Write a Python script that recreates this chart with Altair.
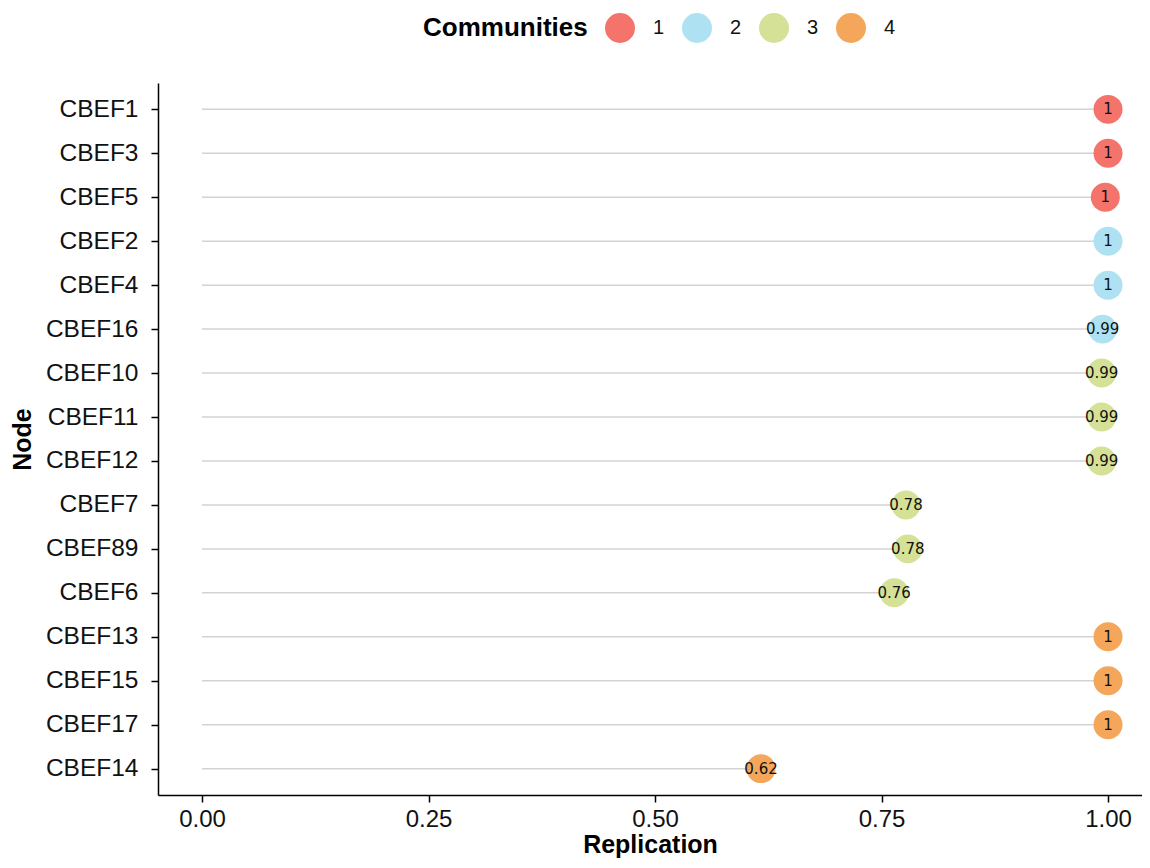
import altair as alt
import pandas as pd

nodes = ["CBEF1", "CBEF3", "CBEF5", "CBEF2", "CBEF4", "CBEF16", "CBEF10", "CBEF11",
         "CBEF12", "CBEF7", "CBEF89", "CBEF6", "CBEF13", "CBEF15", "CBEF17", "CBEF14"]
communities = ["1", "1", "1", "2", "2", "2", "3", "3", "3", "3", "3", "3", "4", "4", "4", "4"]
replication = [1.0, 1.0, 0.997, 1.0, 1.0, 0.994, 0.993, 0.993, 0.993,
               0.777, 0.779, 0.764, 1.0, 1.0, 1.0, 0.617]
x_ticks = [0.0, 0.25, 0.5, 0.75, 1.0]
comm_domain = ["1", "2", "3", "4"]
comm_colors = ["#F4736B", "#AEE2F2", "#D5E196", "#F4A75A"]

df = pd.DataFrame({"Node": nodes, "Community": communities, "Replication": replication})
df["zero"] = 0.0

FONT = "Liberation Sans"

x_scale = alt.Scale(domain=[-0.0486, 1.0375], nice=False, zero=False)
y_scale = alt.Scale(type="point", padding=0.6, domain=nodes)

base = alt.Chart(df)

segments = base.mark_rule(color="#D3D3D3", strokeWidth=1.5).encode(
    x=alt.X("zero:Q", scale=x_scale,
            axis=alt.Axis(values=x_ticks, format=".2f", title="Replication",
                          labelFontSize=24, titleFontSize=25, labelColor="#111111",
                          titleColor="black", titleFontWeight="bold", grid=False,
                          domainColor="black", domainWidth=1.5, tickColor="black",
                          tickSize=7, tickWidth=1.5, labelPadding=5, titlePadding=1,
                          labelFont=FONT, titleFont=FONT)),
    x2="Replication:Q",
    y=alt.Y("Node:N", scale=y_scale, sort=nodes,
            axis=alt.Axis(title="Node", labelFontSize=24.5, titleFontSize=25,
                          labelColor="#111111", titleColor="black",
                          titleFontWeight="bold", grid=False, domainColor="black",
                          domainWidth=1.5, tickColor="black", tickSize=7,
                          tickWidth=1.5, labelPadding=13, titlePadding=10,
                          labelFont=FONT, titleFont=FONT)),
)

points = base.mark_circle(size=840, opacity=1).encode(
    x=alt.X("Replication:Q", scale=x_scale),
    y=alt.Y("Node:N", scale=y_scale, sort=nodes),
    color=alt.Color("Community:N",
                    scale=alt.Scale(domain=comm_domain, range=comm_colors),
                    legend=alt.Legend(title="Communities", orient="none",
                                      direction="horizontal", legendX=265,
                                      legendY=-70, titleOrient="left",
                                      titleFontSize=26, titleFont=FONT,
                                      titleColor="black", titleFontWeight="bold",
                                      titlePadding=17, labelFontSize=20,
                                      labelFont=FONT, labelColor="#111111",
                                      symbolType="circle", symbolSize=900,
                                      symbolStrokeWidth=0, symbolOpacity=1,
                                      labelOffset=18, columnPadding=17,
                                      padding=0)),
)

labels = base.mark_text(font="DejaVu Sans", fontSize=15, color="#111111",
                        align="center", baseline="middle").encode(
    x=alt.X("Replication:Q", scale=x_scale),
    y=alt.Y("Node:N", scale=y_scale, sort=nodes),
    text=alt.Text("Replication:Q", format=".2~f"),
)

chart = (segments + points + labels).properties(
    width=984, height=712,
    padding={"left": 150, "top": 75, "right": 0, "bottom": 65},
    autosize=alt.AutoSizeParams(type="none"),
    background="white",
).configure_view(stroke="transparent", strokeWidth=0).configure_axis(grid=False)

chart.save("out.html", embed_options={"renderer": "svg", "actions": False})
